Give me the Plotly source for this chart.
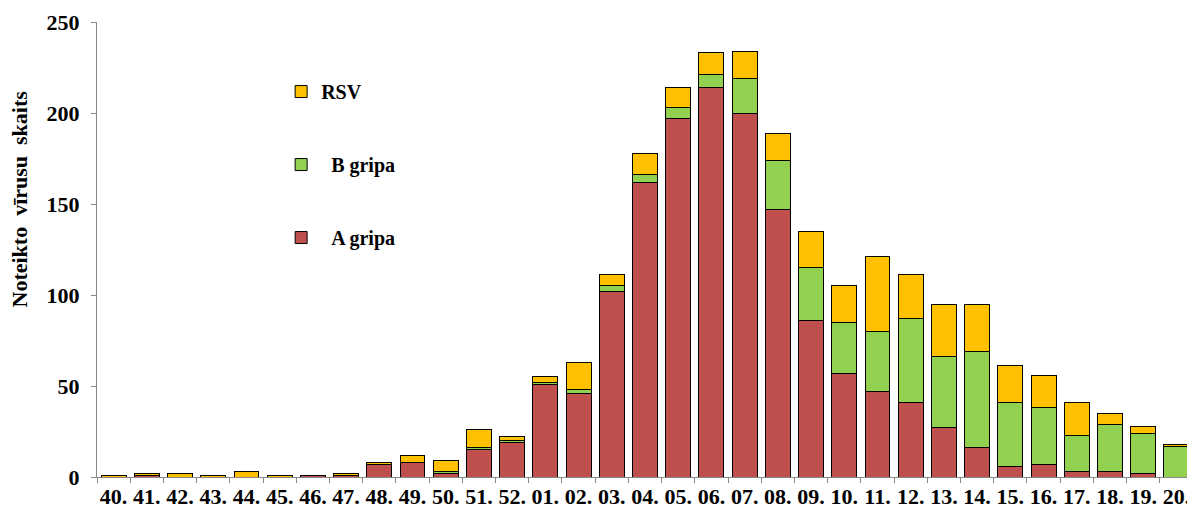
import plotly.graph_objects as go

weeks = ["40.", "41.", "42.", "43.", "44.", "45.", "46.", "47.", "48.", "49.", "50.", "51.", "52.",
         "01.", "02.", "03.", "04.", "05.", "06.", "07.", "08.", "09.", "10.", "11.", "12.", "13.",
         "14.", "15.", "16.", "17.", "18.", "19.", "20."]
a_gripa = [0, 1, 0, 0, 0, 0, 1, 1, 7, 8, 2, 15, 19,
           51, 46, 102, 162, 197, 214, 200, 147, 86, 57, 47, 41, 27,
           16, 6, 7, 3, 3, 2, 0]
b_gripa = [0, 0, 0, 0, 0, 0, 0, 0, 0, 0, 1, 1, 1,
           1, 2, 3, 4, 6, 7, 19, 27, 29, 28, 33, 46, 39,
           53, 35, 31, 20, 26, 22, 17]
rsv = [1, 1, 2, 1, 3, 1, 0, 1, 1, 4, 6, 10, 2,
       3, 15, 6, 12, 11, 12, 15, 15, 20, 20, 41, 24, 29,
       26, 20, 18, 18, 6, 4, 1]
y_title = "Noteikto\u00a0 vīrusu\u00a0 skaits"

FONT = "Liberation Serif"
fig = go.Figure()
series = [("A gripa", a_gripa, "#C0504D", "\u00a0\u00a0A gripa", 3),
          ("B gripa", b_gripa, "#92D050", "\u00a0\u00a0B gripa", 2),
          ("RSV", rsv, "#FFC000", "RSV", 1)]
for key, vals, col, label, rank in series:
    fig.add_trace(go.Bar(x=weeks, y=vals, name=label, legendgroup=key, legendrank=rank,
                         marker=dict(color=col, line=dict(color="black", width=1))))

# page body has an 8px margin; figure is sized/offset to compensate
fig.update_layout(
    barmode="stack", bargap=0.25,
    width=1187, height=503,
    margin=dict(l=89, r=2, t=14, b=34),
    plot_bgcolor="white", paper_bgcolor="white",
    font=dict(family=FONT, size=20, color="black"),
    showlegend=True,
    legend=dict(x=0.168, y=0.89, xanchor="left", yanchor="top",
                traceorder="grouped", tracegroupgap=44, itemwidth=30,
                font=dict(family=FONT, size=20, color="black", weight="bold"),
                bgcolor="rgba(0,0,0,0)"),
    xaxis=dict(type="category", tickson="boundaries", ticks="outside", ticklen=5,
               tickcolor="#888888", showline=True, linecolor="#888888", tickangle=0,
               tickfont=dict(family=FONT, size=22, weight="bold"), showgrid=False,
               automargin=False),
    yaxis=dict(range=[0, 250], dtick=50, ticks="outside", ticklen=5,
               tickcolor="#888888", showline=True, linecolor="#888888",
               showgrid=False, zeroline=False, automargin=False, ticklabelstandoff=7,
               tickfont=dict(family=FONT, size=22, weight="bold")),
    annotations=[dict(text=y_title, textangle=-90, xref="paper", yref="paper",
                      x=-0.0707, y=0.611, xanchor="center", yanchor="middle",
                      showarrow=False,
                      font=dict(family=FONT, size=22, weight="bold", color="black"))],
)
fig.write_html("out.html")
